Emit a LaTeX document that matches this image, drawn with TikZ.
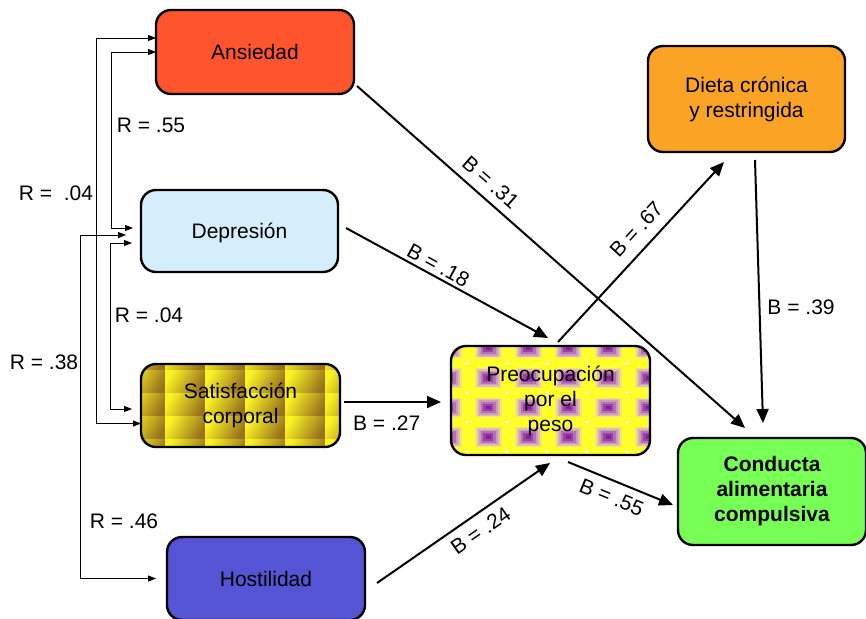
\documentclass[tikz,border=0pt]{standalone}
\usepackage{fontspec}
\setmainfont{Liberation Sans}
\usetikzlibrary{arrows.meta}

\definecolor{ansC}{HTML}{FF552E}
\definecolor{depC}{HTML}{D4EEFC}
\definecolor{hosC}{HTML}{5454D4}
\definecolor{dieC}{HTML}{FBA324}
\definecolor{conC}{HTML}{77FF55}
\definecolor{goldL}{HTML}{FAF424}
\definecolor{goldD}{HTML}{9A721C}
\definecolor{preY}{HTML}{FFFF2A}
\definecolor{blobA}{HTML}{F2E678}
\definecolor{blobB}{HTML}{E2C0A8}
\definecolor{blobC}{HTML}{CC9CC0}
\definecolor{blobD}{HTML}{B470B8}
\definecolor{blobE}{HTML}{9C40A8}
\definecolor{blobF}{HTML}{86209A}

\begin{document}
\begin{tikzpicture}[x=1pt,y=-1pt,
  box/.style={draw=black, line width=2.4pt, rounded corners=15pt, inner sep=0pt,
    outer sep=0pt, align=center, font=\fontsize{21}{25}\selectfont},
  lbl/.style={inner sep=0pt, font=\fontsize{21}{25}\selectfont},
  rel/.style={line width=0.9pt,
    {Triangle[length=8pt,width=6pt]}-{Triangle[length=8pt,width=6pt]}},
  beta/.style={line width=2pt, -{Triangle[length=14pt,width=12pt]}},
]
\useasboundingbox (0,0) rectangle (866,618);
\clip (0,0) rectangle (866,618);
\fill[white] (0,0) rectangle (866,618);

% woven gold texture of "Satisfaccion corporal"
\begin{scope}
  \clip[rounded corners=15pt] (141,364) rectangle (340,447);
  \foreach \i in {0,...,5} \foreach \j in {0,...,4} {
    \shade[top color=goldL, bottom color=goldD, shading angle=60]
      (125+40*\i, 347+23*\j) rectangle ++(40,23);
  }
\end{scope}

% yellow and purple texture of "Preocupacion por el peso"
\begin{scope}
  \clip[rounded corners=15pt] (451,346) rectangle (650,455);
  \fill[preY] (451,346) rectangle (650,455);
  \foreach \i in {0,...,5} \foreach \j in {0,...,3} {
    \foreach \s/\c in {27/blobA,23/blobB,19/blobC,15/blobD,10/blobE,5/blobF}
      \fill[\c] (448+40*\i-\s/2, 348.5+29.5*\j-\s*0.37) rectangle ++(\s,\s*0.74);
  }
  \foreach \i in {0,...,4} \foreach \j in {0,...,3}
    \draw[white, line width=0.7pt] (465+40*\i, 363+29.5*\j) -- ++(4,0)
      (467+40*\i, 361+29.5*\j) -- ++(0,4);
\end{scope}

% boxes
\node[box, fill=ansC, minimum width=198pt, minimum height=84pt] (ans) at (255,52) {Ansiedad};
\node[box, fill=depC, minimum width=197pt, minimum height=82pt, text depth=0pt] (dep) at (239.5,231) {Depresión};
\node[box, minimum width=199pt, minimum height=83pt] (sat) at (240.5,405.5) {Satisfacción\\corporal};
\node[box, fill=hosC, minimum width=198pt, minimum height=83pt] (hos) at (266,578.5) {Hostilidad};
\node[box, minimum width=199pt, minimum height=109pt] (pre) at (550.5,400.5) {Preocupación\\por el\\peso};
\node[box, fill=dieC, minimum width=197pt, minimum height=106pt] (die) at (746.5,99) {Dieta crónica\\y restringida};
\node[box, fill=conC, minimum width=188pt, minimum height=107pt,
  font=\fontsize{21}{25}\selectfont\bfseries] (con) at (772,491.5) {Conducta\\alimentaria\\compulsiva};

% correlations between predictors
\draw[rel] ([yshift=14pt]ans.west) -- ++(-60,0) |- ([yshift=-18pt]sat.west);
\draw[rel, shorten >=8pt] (ans.west) -- ++(-45,0) |- ([yshift=3pt]dep.west);
\draw[rel, shorten <=9pt, shorten >=9pt] ([yshift=-12pt]dep.west) -- ++(-31,0) |- ([yshift=-3.5pt]sat.west);
\draw[rel, shorten <=15pt, shorten >=11pt] ([yshift=-4pt]dep.west) -- ++(-61,0) |- (hos.west);

\node[lbl] (r1) at (56,193) {R =\ \ .04};
\node[lbl] (r2) at (151,125) {R = .55};
\node[lbl] (r3) at (149,315) {R = .04};
\node[lbl] (r4) at (44,362) {R = .38};
\node[lbl] (r5) at (124,521) {R = .46};

% regression paths
\draw[beta] ([xshift=3pt,yshift=8pt]ans.south east) --
  node[lbl, sloped, above=7.7pt, pos=0.317] {B = .31} ([xshift=-27pt,yshift=10pt]con.north);
\draw[beta] ([xshift=8pt,yshift=3pt]dep.east) --
  node[lbl, sloped, above=3pt, pos=0.43] {B = .18} ([xshift=-2.5pt,yshift=8pt]pre.north);
\draw[beta] ([xshift=4pt,yshift=3.5pt]sat.east) --
  node[lbl, below=12.5pt, pos=0.44] {B = .27} ([xshift=-10pt,yshift=-1.5pt]pre.west);
\draw[beta] ([xshift=12pt,yshift=-4.5pt]hos.east) --
  node[lbl, sloped, below=7.7pt, pos=0.546] {B = .24} ([xshift=-0.5pt,yshift=-8pt]pre.south);
\draw[beta] ([xshift=17.5pt,yshift=-7pt]pre.south) --
  node[lbl, sloped, below=8pt, pos=0.475] {B = .55} ([xshift=-5pt,yshift=-13.5pt]con.west);
\draw[beta] ([xshift=7.5pt,yshift=4pt]pre.north) --
  node[lbl, sloped, above=10.4pt, pos=0.555] {B = .67} ([xshift=-22.5pt,yshift=-10pt]die.south);
\draw[beta] ([xshift=8.5pt,yshift=-8pt]die.south) --
  node[lbl, right=7pt, pos=0.56] {B = .39} ([xshift=-9pt,yshift=15pt]con.north);
\end{tikzpicture}
\end{document}
